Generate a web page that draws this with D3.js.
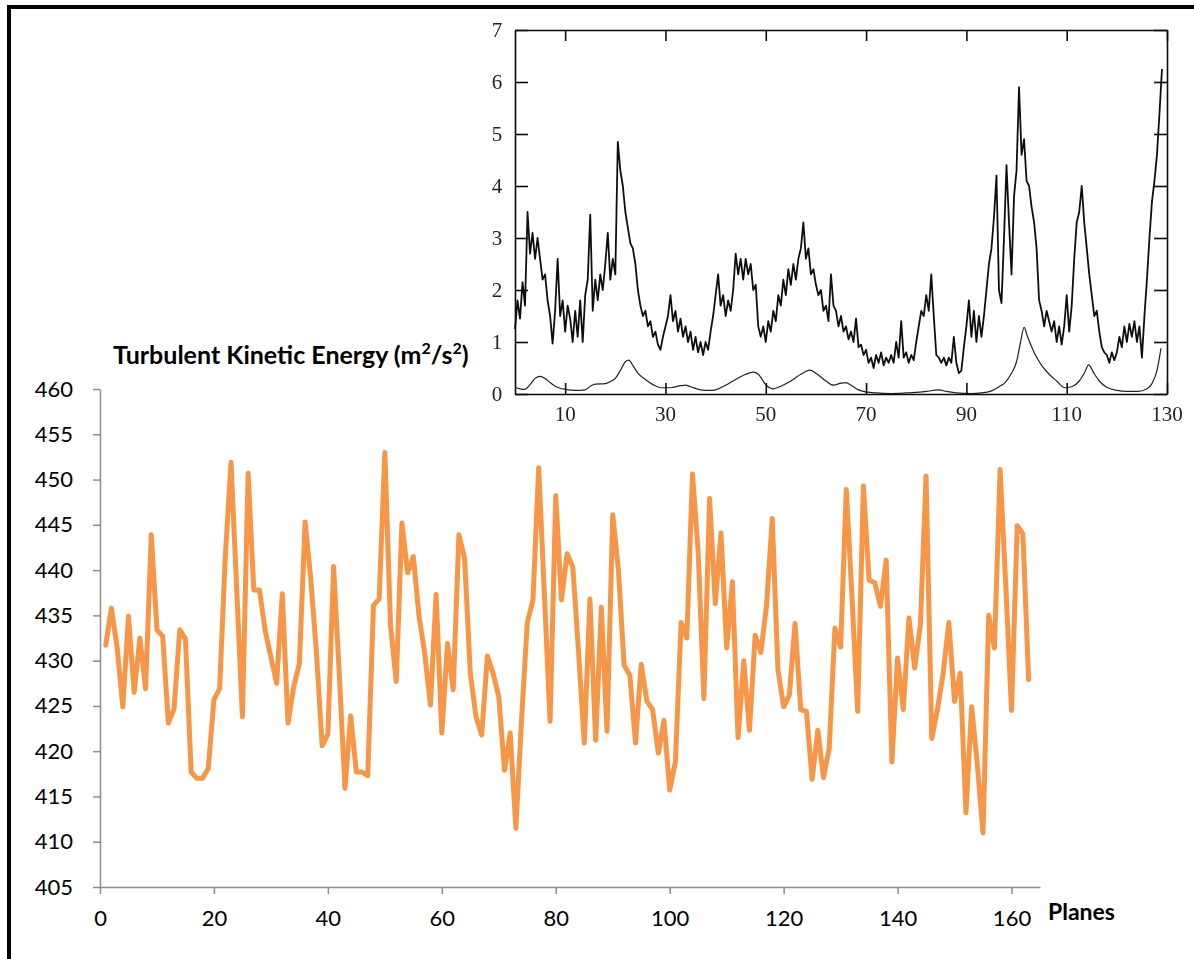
<!DOCTYPE html>
<html>
<head>
<meta charset="utf-8">
<script src="https://cdn.jsdelivr.net/npm/d3@7"></script>
<style>
  body { margin: 0; background: #fff; }
  svg { display: block; }
</style>
</head>
<body>
<svg id="chart" width="1194" height="959"></svg>
<script>
// ---- Main series: turbulent kinetic energy per plane ----
const planeIds = d3.range(1, 164);
const tke = [
  431.7, 435.8, 431.5, 424.9, 434.9, 426.5, 432.5, 426.9, 443.9, 433.4,
  432.7, 423.1, 424.7, 433.4, 432.4, 417.7, 417.0, 417.0, 418.1, 425.7,
  426.9, 441.6, 451.9, 437.8, 423.8, 450.7, 437.8, 437.8, 433.3, 430.4,
  427.5, 437.4, 423.1, 427.1, 429.7, 445.3, 439.0, 430.8, 420.6, 421.9,
  440.4, 428.5, 415.9, 423.9, 417.7, 417.7, 417.3, 436.1, 436.8, 453.0,
  433.8, 427.7, 445.2, 439.7, 441.5, 434.9, 430.8, 425.1, 437.3, 422.0,
  431.9, 426.8, 443.9, 441.3, 428.6, 423.8, 421.8, 430.5, 428.6, 426.0,
  417.9, 422.0, 411.5, 423.5, 434.2, 436.7, 451.3, 437.4, 423.3, 448.2,
  436.7, 441.8, 440.3, 431.0, 420.9, 436.8, 421.2, 435.9, 422.2, 446.1,
  440.0, 429.5, 428.4, 420.9, 429.6, 425.5, 424.6, 419.8, 423.4, 415.7,
  418.8, 434.2, 432.5, 450.6, 442.0, 425.8, 447.9, 436.3, 444.1, 431.4,
  438.7, 421.5, 430.0, 422.3, 432.8, 430.9, 436.1, 445.7, 429.0, 424.9,
  426.2, 434.1, 424.6, 424.4, 416.9, 422.3, 417.1, 420.3, 433.6, 431.5,
  448.9, 437.0, 424.4, 449.3, 438.9, 438.6, 436.0, 441.1, 418.8, 430.3,
  424.6, 434.7, 429.2, 433.9, 450.4, 421.4, 424.6, 428.6, 434.2, 425.5,
  428.6, 413.2, 424.9, 418.5, 411.0, 435.0, 431.4, 451.1, 438.2, 424.5,
  444.9, 444.0, 427.9
];
const mainXTicks = [0, 20, 40, 60, 80, 100, 120, 140, 160];
const mainYTicks = [405, 410, 415, 420, 425, 430, 435, 440, 445, 450, 455, 460];

// ---- Inset: instantaneous signal (sampled every half unit) and its mean ----
const insetStep = 0.5;
const insetSignal = [
  1.25, 1.8, 1.45, 2.15, 1.7, 3.5, 2.7, 3.1, 2.6, 3.0,
  2.6, 2.2, 2.3, 1.8, 1.5, 0.97, 1.6, 2.6, 1.5, 1.8,
  1.2, 1.7, 1.45, 1.0, 1.6, 1.1, 1.8, 1.0, 1.9, 2.2,
  3.45, 1.6, 2.2, 1.8, 2.3, 2.0, 2.5, 3.1, 2.2, 2.6,
  2.3, 4.85, 4.3, 4.0, 3.5, 3.2, 2.9, 2.8, 2.5, 2.0,
  1.7, 1.5, 1.6, 1.3, 1.4, 1.1, 1.2, 0.95, 0.85, 1.1,
  1.3, 1.5, 1.9, 1.4, 1.6, 1.2, 1.45, 1.1, 1.3, 1.0,
  1.2, 0.85, 1.1, 0.8, 1.0, 0.75, 1.0, 0.85, 1.2, 1.5,
  1.9, 2.3, 1.7, 1.9, 1.5, 1.8, 1.6, 2.0, 2.7, 2.3,
  2.6, 2.2, 2.6, 2.3, 2.5, 2.0, 2.1, 1.3, 1.1, 1.3,
  1.0, 1.4, 1.2, 1.6, 1.4, 1.9, 1.7, 2.2, 1.9, 2.4,
  2.1, 2.5, 2.2, 2.6, 2.8, 3.3, 2.6, 2.8, 2.3, 2.4,
  2.1, 1.9, 2.0, 1.6, 1.7, 1.4, 2.3, 1.7, 1.6, 1.3,
  1.5, 1.2, 1.3, 1.05, 1.2, 1.0, 1.45, 0.9, 0.95, 0.75,
  0.85, 0.6, 0.7, 0.5, 0.75, 0.6, 0.8, 0.55, 0.7, 0.6,
  0.75, 0.6, 1.0, 0.7, 1.4, 0.7, 0.8, 0.6, 0.75, 0.65,
  1.0, 1.3, 1.6, 1.5, 1.9, 1.6, 2.3, 1.5, 0.75, 0.7,
  0.6, 0.7, 0.55, 0.7, 0.6, 1.1, 0.6, 0.4, 0.45, 0.9,
  1.3, 1.8, 1.1, 1.6, 1.0, 1.5, 1.1, 1.5, 2.0, 2.5,
  2.8, 3.4, 4.2, 2.0, 1.75, 3.0, 4.4, 3.3, 2.3, 3.8,
  4.3, 5.9, 4.6, 4.9, 4.1, 4.0, 3.6, 3.3, 2.8, 1.8,
  1.6, 1.3, 1.6, 1.4, 1.2, 1.4, 1.0, 1.3, 0.95, 1.3,
  1.9, 1.2, 1.7, 2.6, 3.3, 3.5, 4.0, 3.3, 2.8, 2.3,
  1.9, 1.5, 1.6, 1.2, 0.9, 0.8, 0.75, 0.6, 0.8, 0.65,
  0.8, 1.1, 0.9, 1.3, 1.0, 1.35, 1.1, 1.4, 1.0, 1.3,
  0.7, 1.5, 2.2, 3.0, 3.7, 4.1, 4.6, 5.4, 6.25
];
const meanX = [
  0, 1, 2, 3, 4, 5, 6, 7, 8, 9, 10, 12, 14, 15, 16, 18, 19, 20, 21, 22,
  22.7, 23.5, 24.5, 26, 27.5, 29, 31, 33, 34, 35, 37, 39, 40, 42, 44, 46, 47.5, 48.5, 50, 51.5,
  53, 55, 57, 58.8, 60, 62, 63.5, 65, 66, 67, 68.5, 70, 72, 75, 78, 80, 82, 84.5, 86, 88,
  91, 93, 95, 96.5, 97.7, 99, 100, 100.8, 101.5, 102.2, 103.5, 105, 106.5, 108, 109.6, 111, 112.5, 113.5, 114.4, 115.3,
  116.5, 118, 120, 122, 124.3, 126, 127, 128, 128.8
];
const meanY = [
  0.13, 0.1, 0.09, 0.18, 0.3, 0.34, 0.3, 0.22, 0.15, 0.11, 0.09, 0.07, 0.08, 0.15, 0.19, 0.2, 0.24, 0.3, 0.45, 0.62,
  0.65, 0.55, 0.4, 0.28, 0.18, 0.12, 0.12, 0.16, 0.17, 0.14, 0.08, 0.07, 0.08, 0.17, 0.28, 0.38, 0.42, 0.38, 0.18, 0.1,
  0.15, 0.25, 0.38, 0.46, 0.4, 0.25, 0.17, 0.21, 0.22, 0.17, 0.08, 0.04, 0.02, 0.01, 0.02, 0.03, 0.05, 0.08, 0.05, 0.02,
  0.01, 0.02, 0.06, 0.14, 0.22, 0.4, 0.62, 1.0, 1.28, 1.1, 0.8, 0.55, 0.38, 0.25, 0.12, 0.14, 0.25, 0.4, 0.56, 0.42,
  0.25, 0.13, 0.07, 0.05, 0.05, 0.1, 0.2, 0.45, 0.88
];
const insetXTicks = [10, 30, 50, 70, 90, 110, 130];
const insetYTicks = [0, 1, 2, 3, 4, 5, 6, 7];

const svg = d3.select("#chart");
const sans = "Lato, 'Open Sans', sans-serif";
const serif = "'Liberation Serif', 'DejaVu Serif', serif";

// ---- outer frame (top and left edges) ----
svg.append("line").attr("x1", 9).attr("x2", 9).attr("y1", 5).attr("y2", 959)
  .attr("stroke", "#000").attr("stroke-width", 4);
svg.append("line").attr("x1", 7).attr("x2", 1194).attr("y1", 7).attr("y2", 7)
  .attr("stroke", "#000").attr("stroke-width", 4);

// ---- main chart ----
const x = d3.scaleLinear().domain([0, 165]).range([100, 1040]);
const y = d3.scaleLinear().domain([405, 460]).range([887, 389]);
const axisGrey = "#8c8c8c";

const gx = svg.append("g").attr("transform", `translate(0,${y(405)})`)
  .call(d3.axisBottom(x).tickValues(mainXTicks).tickFormat(d3.format("d"))
    .tickSize(7).tickSizeOuter(0).tickPadding(16));
const gy = svg.append("g").attr("transform", `translate(${x(0)},0)`)
  .call(d3.axisLeft(y).tickValues(mainYTicks).tickFormat(d3.format("d"))
    .tickSize(7).tickSizeOuter(0).tickPadding(20));
[gx, gy].forEach(g => {
  g.select(".domain").attr("stroke", axisGrey).attr("stroke-width", 1.5);
  g.selectAll(".tick line").attr("stroke", axisGrey).attr("stroke-width", 1.5);
  g.selectAll(".tick text").attr("fill", "#000").style("font-family", sans).style("font-size", "22px");
});

const mainLine = d3.line().x((d, i) => x(planeIds[i])).y(d => y(d));
svg.append("path").datum(tke)
  .attr("d", mainLine)
  .attr("fill", "none")
  .attr("stroke", "#F79646")
  .attr("stroke-width", 5)
  .attr("stroke-linejoin", "round")
  .attr("stroke-linecap", "round");

// axis titles
const title = svg.append("text")
  .attr("x", 113).attr("y", 364)
  .style("font-family", sans).style("font-weight", "bold").style("font-size", "25px");
title.append("tspan").text("Turbulent Kinetic Energy (m");
title.append("tspan").attr("dy", -10).style("font-size", "16px").text("2");
title.append("tspan").attr("dy", 10).text("/s");
title.append("tspan").attr("dy", -10).style("font-size", "16px").text("2");
title.append("tspan").attr("dy", 10).text(")");

svg.append("text").attr("x", 1048).attr("y", 920)
  .style("font-family", sans).style("font-weight", "bold").style("font-size", "23px")
  .text("Planes");

// ---- inset ----
const defs = svg.append("defs");
defs.append("filter").attr("id", "soft")
  .append("feGaussianBlur").attr("stdDeviation", 0.55);

const ix = d3.scaleLinear().domain([0, 130]).range([515, 1167]);
const iy = d3.scaleLinear().domain([0, 7]).range([394, 30]);
const inset = svg.append("g");
const insetLines = inset.append("g").attr("filter", "url(#soft)");

const signalLine = d3.line().x((d, i) => ix(i * insetStep)).y(d => iy(d));
insetLines.append("path").datum(insetSignal)
  .attr("d", signalLine).attr("fill", "none")
  .attr("stroke", "#111").attr("stroke-width", 1.8).attr("stroke-linejoin", "round");

const meanLine = d3.line().x((d, i) => ix(meanX[i])).y(d => iy(d)).curve(d3.curveMonotoneX);
insetLines.append("path").datum(meanY)
  .attr("d", meanLine).attr("fill", "none")
  .attr("stroke", "#222").attr("stroke-width", 1.2);

const tickIn = 11;
const bottomAx = insetLines.append("g").attr("transform", `translate(0,${iy(0)})`)
  .call(d3.axisBottom(ix).tickValues(insetXTicks).tickSize(-tickIn).tickSizeOuter(0).tickFormat(""));
const topAx = insetLines.append("g").attr("transform", `translate(0,${iy(7)})`)
  .call(d3.axisTop(ix).tickValues(insetXTicks).tickSize(-tickIn).tickSizeOuter(0).tickFormat(""));
const leftAx = insetLines.append("g").attr("transform", `translate(${ix(0)},0)`)
  .call(d3.axisLeft(iy).tickValues(insetYTicks).tickSize(-tickIn - 2).tickSizeOuter(0).tickFormat(""));
const rightAx = insetLines.append("g").attr("transform", `translate(${ix(130)},0)`)
  .call(d3.axisRight(iy).tickValues(insetYTicks).tickSize(-tickIn - 2).tickSizeOuter(0).tickFormat(""));
[bottomAx, topAx, leftAx, rightAx].forEach(g => {
  g.select(".domain").attr("stroke", "#111").attr("stroke-width", 1.6);
  g.selectAll(".tick line").attr("stroke", "#111").attr("stroke-width", 1.6);
});

// inset tick labels
inset.append("g").selectAll("text").data(insetXTicks).join("text")
  .attr("x", d => ix(d)).attr("y", 421)
  .attr("text-anchor", "middle")
  .style("font-family", serif).style("font-size", "21px").attr("fill", "#222")
  .text(d => d);
inset.append("g").selectAll("text").data(insetYTicks).join("text")
  .attr("x", 497).attr("y", d => iy(d) + 7)
  .attr("text-anchor", "middle")
  .style("font-family", serif).style("font-size", "21px").attr("fill", "#222")
  .text(d => d);
</script>
</body>
</html>
